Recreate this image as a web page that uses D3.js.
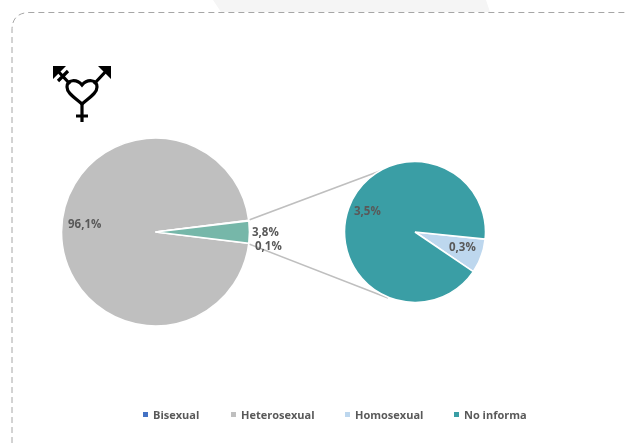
<!DOCTYPE html>
<html><head><meta charset="utf-8">
<script src="https://cdn.jsdelivr.net/npm/d3@7"></script>
<style>html,body{margin:0;background:#fff}svg{display:block;filter:blur(0.4px)}text{font-family:"Open Sans",sans-serif;font-weight:700;fill:#595959}</style>
</head><body><svg id="c" width="626" height="443"></svg>
<script>
const mainCategories = ["Heterosexual", "Bisexual", "Otros"];
const mainValues = [96.1, 0.1, 3.8];
const mainLabels = ["96,1%", "0,1%", "3,8%"];
const mainColors = ["#bfbfbf", "#4472c4", "#76b7a9"];
const subCategories = ["Homosexual", "No informa"];
const subValues = [0.3, 3.5];
const subLabels = ["0,3%", "3,5%"];
const subColors = ["#bdd7ee", "#3a9ea5"];
const legendNames = ["Bisexual", "Heterosexual", "Homosexual", "No informa"];
const legendColors = ["#4472c4", "#bfbfbf", "#bdd7ee", "#3a9ea5"];

const svg = d3.select("#c");
svg.append("path").attr("d","M213,0L221,12L490,12L486,0Z").attr("fill","#f5f5f5");
svg.append("path").attr("d","M12,443V30Q12,12.5,30,12.5H626").attr("fill","none")
  .attr("stroke","#a6a6a6").attr("stroke-width",1).attr("stroke-dasharray","6 4");

// Icon
const icon = svg.append("g").attr("fill","none").attr("stroke","#000").attr("stroke-width",3.2);
icon.append("path").attr("d","M82,104C74,97 67,93 67,87C67,79 77,79 82,85C87,79 97,79 97,87C97,93 90,97 82,104Z");
icon.append("path").attr("d","M82,104V122M76,116H88M70,84L56,69M94,84L108,69M58,81L68,71");
icon.append("path").attr("d","M53,66H66L53,79ZM111,66H98L111,79Z").attr("fill","#000").attr("stroke","none");

// Connectors
const cxMain = 155.5, cy = 232, rMain = 94, cxSub = 415, rSub = 70.5;
const mainStart = Math.PI/2 + 6.9*Math.PI/180;
const pieMain = d3.pie().value(d=>d).sort(null).startAngle(mainStart).endAngle(mainStart+2*Math.PI);
const arcsMain = pieMain(mainValues);
const arcMain = d3.arc().innerRadius(0).outerRadius(rMain);
const conn = svg.append("g").attr("stroke","#bfbfbf").attr("stroke-width",1.5);
conn.append("line").attr("x1",249).attr("y1",220).attr("x2",388).attr("y2",168);
conn.append("line").attr("x1",249).attr("y1",244).attr("x2",388).attr("y2",298);

const gMain = svg.append("g").attr("transform",`translate(${cxMain},${cy})`);
gMain.selectAll("path").data(arcsMain).join("path").attr("d",arcMain)
  .attr("fill",(d,i)=>mainColors[i]).attr("stroke","#fff").attr("stroke-width",1.6);

const subStart = Math.PI/2 + 5.8*Math.PI/180;
const pieSub = d3.pie().value(d=>d).sort(null).startAngle(subStart).endAngle(subStart+2*Math.PI);
const arcSub = d3.arc().innerRadius(0).outerRadius(rSub);
const gSub = svg.append("g").attr("transform",`translate(${cxSub},${cy})`);
gSub.selectAll("path").data(pieSub(subValues)).join("path").attr("d",arcSub)
  .attr("fill",(d,i)=>subColors[i]).attr("stroke","#fff").attr("stroke-width",1.6);

// Labels
const lab = (x,y,t)=>svg.append("text").attr("x",x).attr("y",y).attr("font-size",11.5).text(t);
lab(68,228,mainLabels[0]);
lab(252,236,mainLabels[2]);
lab(255,250,mainLabels[1]);
lab(354,215,subLabels[1]);
lab(449,251,subLabels[0]);

// Legend
const legendX = d3.scaleOrdinal().domain(legendNames).range([143,231,345,454]);
const leg = svg.append("g").selectAll("g").data(legendNames).join("g")
  .attr("transform",d=>`translate(${legendX(d)},0)`);
leg.append("rect").attr("y",412).attr("width",5).attr("height",5).attr("fill",(d,i)=>legendColors[i]);
leg.append("text").attr("x",10).attr("y",419).attr("font-size",11).text(d=>d);
</script></body></html>
